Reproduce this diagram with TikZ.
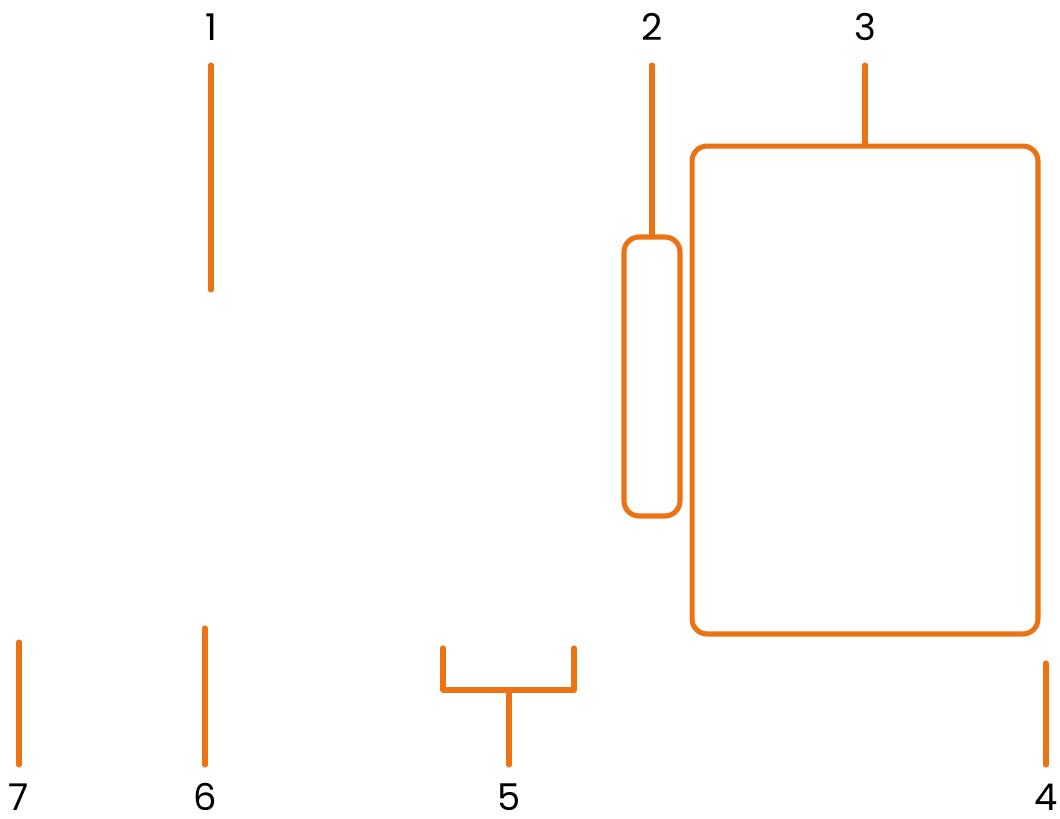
\documentclass[tikz,border=0pt]{standalone}
\usepackage{fontspec}
\setmainfont{Poppins}
\definecolor{partorange}{HTML}{EC7314}
\begin{document}
\begin{tikzpicture}[x = 0.02cm, y = -0.02cm,
        lead/.style = {draw = partorange, line width = 2.9pt, line cap = round, line join = round},
        part/.style = {draw = partorange, line width = 2.9pt, rounded corners = 0.3cm, inner sep = 0pt},
        num/.style = {font = \fontsize{21}{25}\selectfont, inner sep = 0pt}]
            \useasboundingbox (0,0) rectangle (1060,818);
            % parts
            \node[part, minimum width = 1.12cm, minimum height = 5.58cm] (clip) at (652,376.5) {};
            \node[part, minimum width = 6.92cm, minimum height = 9.76cm] (box) at (865,390) {};
            % labels
            \begin{scope}[every node/.append style = {num}]
                \node (l1) at (211,27) {1};
                \node (l2) at (652,27) {2};
                \node (l3) at (865,27) {3};
                \node (l4) at (1046,797) {4};
                \node (l5) at (509,797) {5};
                \node (l6) at (205,797) {6};
                \node (l7) at (19,797) {7};
            \end{scope}
            % leader ends
            \coordinate (t1) at (211,65);
            \coordinate (e1) at (211,290);
            \coordinate (t2) at (652,65);
            \coordinate (t3) at (865,65);
            \coordinate (t4) at (1046,663);
            \coordinate (b4) at (1046,765);
            \coordinate (b5) at (509,765);
            \coordinate (m5) at (509,690);
            \coordinate (t6) at (205,628);
            \coordinate (b6) at (205,765);
            \coordinate (t7) at (19,642);
            \coordinate (b7) at (19,765);
            \draw[lead] (t1) -- (e1);
            \draw[lead] (t2) -- (clip.north);
            \draw[lead] (t3) -- (box.north);
            \draw[lead] (t4) -- (b4);
            \draw[lead] (b5) -- (m5);
            \draw[lead] (443,648) -- (443,690) -- (574,690) -- (574,648);
            \draw[lead] (t6) -- (b6);
            \draw[lead] (t7) -- (b7);
\end{tikzpicture}
\end{document}
